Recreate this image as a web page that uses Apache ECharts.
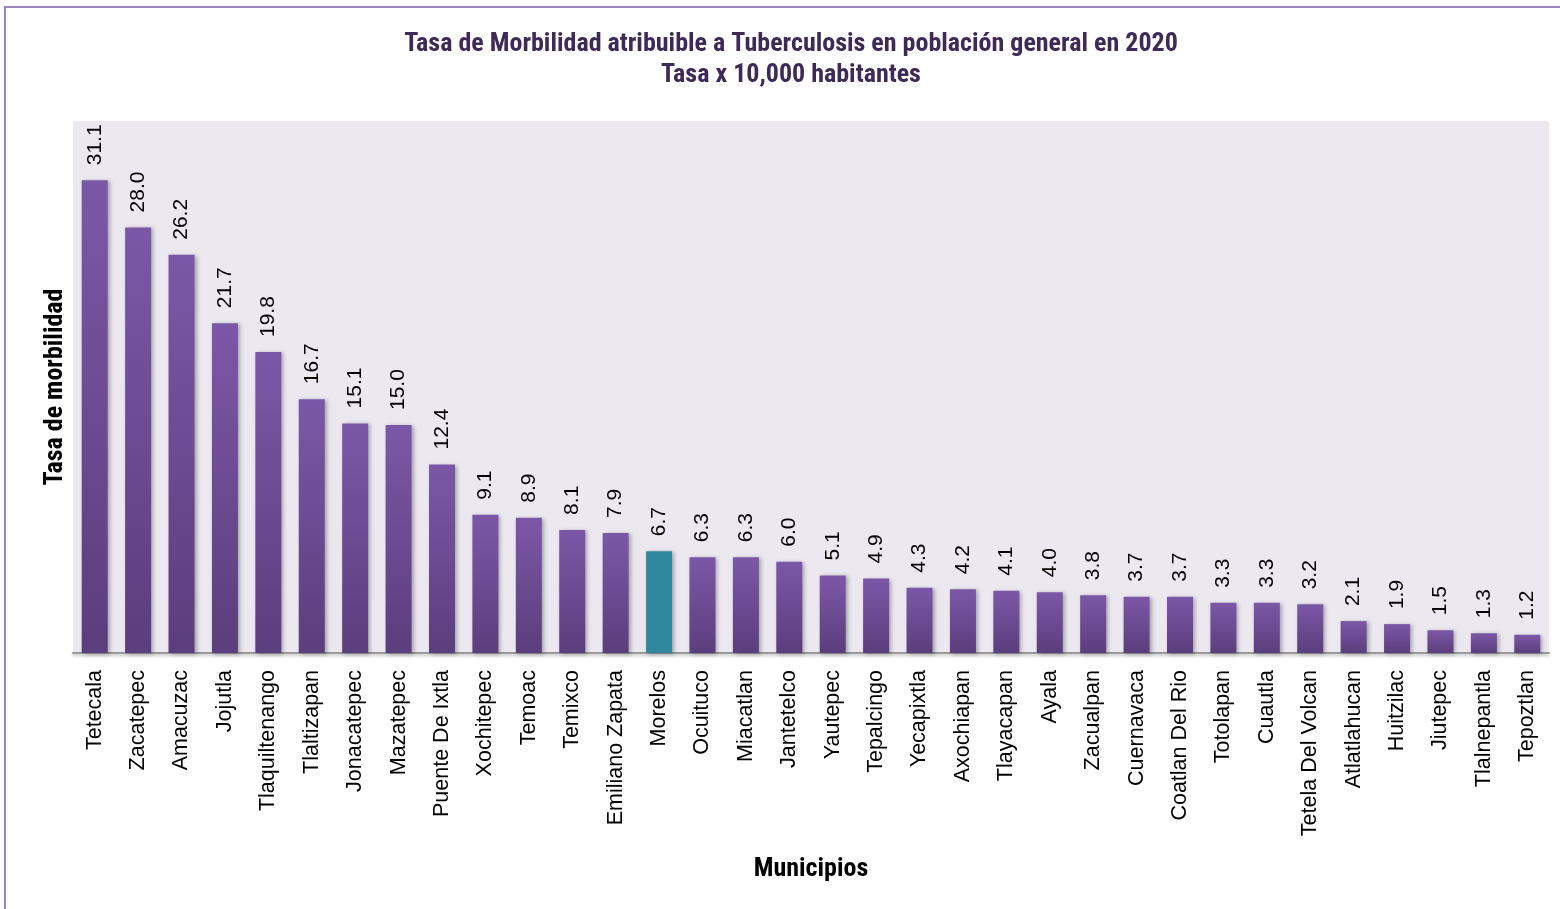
<!DOCTYPE html>
<html>
<head>
<meta charset="utf-8">
<script src="https://cdn.jsdelivr.net/npm/echarts@6/dist/echarts.min.js"></script>
<style>
html,body{margin:0;padding:0;background:#fff;}
#main{width:1560px;height:909px;}
</style>
</head>
<body>
<div id="main"></div>
<script>
const categories = ["Tetecala","Zacatepec","Amacuzac","Jojutla","Tlaquiltenango","Tlaltizapan","Jonacatepec","Mazatepec","Puente De Ixtla","Xochitepec","Temoac","Temixco","Emiliano Zapata","Morelos","Ocuituco","Miacatlan","Jantetelco","Yautepec","Tepalcingo","Yecapixtla","Axochiapan","Tlayacapan","Ayala","Zacualpan","Cuernavaca","Coatlan Del Rio","Totolapan","Cuautla","Tetela Del Volcan","Atlatlahucan","Huitzilac","Jiutepec","Tlalnepantla","Tepoztlan"];
const values = [31.1,28.0,26.2,21.7,19.8,16.7,15.1,15.0,12.4,9.1,8.9,8.1,7.9,6.7,6.3,6.3,6.0,5.1,4.9,4.3,4.2,4.1,4.0,3.8,3.7,3.7,3.3,3.3,3.2,2.1,1.9,1.5,1.3,1.2];
const highlight = "Morelos";
const titleText = "Tasa de Morbilidad atribuible a Tuberculosis en población general en 2020\nTasa x 10,000 habitantes";
const yName = "Tasa de morbilidad";
const xName = "Municipios";

const narrow = "'Liberation Sans Narrow','Arial Narrow','Roboto Condensed','Liberation Sans',sans-serif";
const sans = "'Liberation Sans',Arial,sans-serif";

const purpleGrad = new echarts.graphic.LinearGradient(0,0,0,1,[{offset:0,color:'#7b58a7'},{offset:1,color:'#5b3e7d'}]);
const tealColor = '#2f889c';

const chart = echarts.init(document.getElementById('main'));
chart.setOption({
  animation:false,
  backgroundColor:'#ffffff',
  graphic:[{
    type:'rect', shape:{x:5,y:7,width:1570,height:920},
    style:{fill:'none', stroke:'#9c86c1', lineWidth:2}, z:0
  }],
  title:{
    text:titleText,
    left:786, top:24, textAlign:'center',
    textStyle:{fontFamily:narrow, fontWeight:'bold', fontSize:26, color:'#3d2a56', lineHeight:31}
  },
  grid:{left:73, right:11, top:121, bottom:256, show:true, backgroundColor:'#ebe8f0', borderWidth:0},
  xAxis:{
    type:'category', data:categories,
    name:xName, nameLocation:'middle', nameGap:203,
    nameTextStyle:{fontFamily:narrow, fontWeight:'bold', fontSize:26, color:'#000'},
    axisLine:{show:true, lineStyle:{color:'#9a9a9a', width:2, shadowColor:'rgba(0,0,0,0.25)', shadowBlur:3, shadowOffsetY:2}},
    axisTick:{show:false},
    axisLabel:{rotate:90, interval:0, margin:17, fontFamily:sans, fontSize:21.5, color:'#000'}
  },
  yAxis:{
    type:'value', min:0, max:35,
    name:yName, nameLocation:'middle', nameGap:5, nameRotate:90,
    nameTextStyle:{fontFamily:narrow, fontWeight:'bold', fontSize:26, color:'#000'},
    axisLine:{show:false}, axisTick:{show:false}, axisLabel:{show:false}, splitLine:{show:false}
  },
  series:[{
    type:'bar',
    barWidth:26,
    data:values.map((v,i)=>({value:v, itemStyle:{color: categories[i]===highlight ? tealColor : purpleGrad}})),
    itemStyle:{shadowColor:'rgba(0,0,0,0.3)', shadowBlur:4, shadowOffsetX:2, shadowOffsetY:1},
    label:{show:true, position:'top', rotate:90, align:'left', verticalAlign:'middle', distance:15,
      formatter:p=>p.value.toFixed(1), fontFamily:sans, fontSize:21, color:'#000'}
  }]
});
</script>
</body>
</html>
